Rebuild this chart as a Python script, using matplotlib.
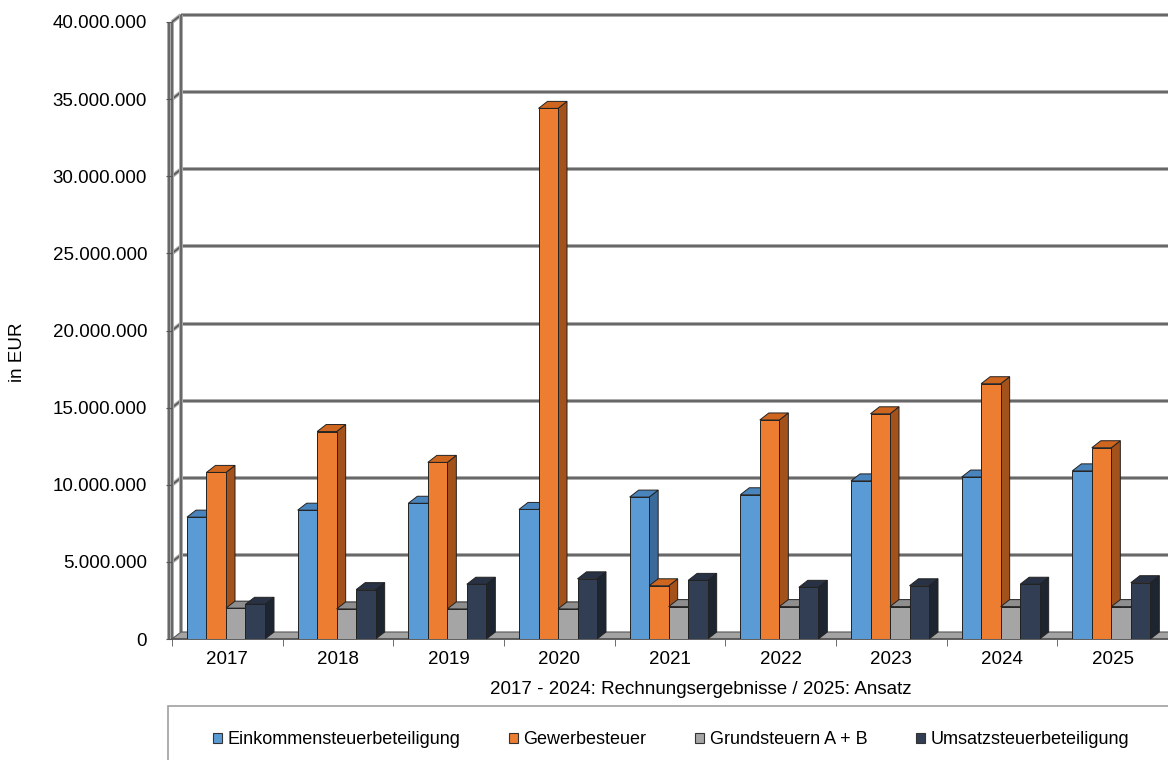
import matplotlib

matplotlib.use("Agg")
import numpy as np
from matplotlib import pyplot as plt
from matplotlib.patches import Patch, Polygon, Rectangle
from matplotlib.ticker import FuncFormatter

plt.rcParams["font.family"] = ["Liberation Sans", "DejaVu Sans"]

# values in millions EUR
years = ["2017", "2018", "2019", "2020", "2021", "2022", "2023", "2024", "2025"]
einkommen = [7.9, 8.35, 8.8, 8.4, 9.2, 9.35, 10.25, 10.5, 10.9]
gewerbe = [10.8, 13.45, 11.45, 34.4, 3.45, 14.2, 14.6, 16.55, 12.4]
grund = [2.0, 1.95, 1.95, 1.95, 2.1, 2.1, 2.1, 2.1, 2.1]
umsatz = [2.25, 3.2, 3.55, 3.9, 3.8, 3.35, 3.45, 3.55, 3.65]

series_names = [
    "Einkommensteuerbeteiligung",
    "Gewerbesteuer",
    "Grundsteuern A + B",
    "Umsatzsteuerbeteiligung",
]
front_colors = ["#5b9bd5", "#ed7d31", "#a5a5a5", "#323e53"]
top_colors = ["#4a84bd", "#cf661f", "#8e8e8e", "#283244"]
side_colors = ["#3b6a9a", "#a4521b", "#767676", "#1d2530"]

W, H = 1168, 760
PX_X = 996 / 9  # pixel per category
PX_Y = 617 / 40e6  # pixel per euro
edge = "#222222"


def grid_line(ax, xs, ys, z=1):
    # two tone line like the excel 3d wall grid
    ax.plot(xs, ys, color="#a8a8a8", lw=2.8, zorder=z, clip_on=False, solid_capstyle="butt")
    ax.plot(xs, ys, color="#555555", lw=1.1, zorder=z, clip_on=False, solid_capstyle="butt")


def main():
    fig = plt.figure(figsize=(W / 100, H / 100), dpi=100)
    ax = fig.add_axes([172 / W, 121 / H, 996 / W, 617 / H])
    ax.set_xlim(-0.5, 8.5)
    ax.set_ylim(0, 40e6)

    dx = 9 / PX_X
    dy = 7 / PX_Y

    # back wall grid + side wall diagonals
    for v in np.arange(5e6, 40e6 + 1, 5e6):
        grid_line(ax, [-0.5 + dx, 9.5], [v + dy, v + dy])
        grid_line(ax, [-0.5, -0.5 + dx], [v, v + dy])
    grid_line(ax, [-0.5 + dx, -0.5 + dx], [dy, 40e6 + dy])
    grid_line(ax, [-0.5, -0.5], [0, 40e6])
    grid_line(ax, [-0.5 - 3 / PX_X, -0.5 - 3 / PX_X], [0, 40e6])

    # floor
    floor = Polygon(
        [(-0.5, 0), (9.5, 0), (9.5 + dx, dy), (-0.5 + dx, dy)],
        closed=True, facecolor="#a3a3a3", edgecolor="#555555", lw=0.8, zorder=1.5, clip_on=False,
    )
    ax.add_patch(floor)
    ax.plot([-0.5, 9.5], [0, 0], color="#555555", lw=1.2, zorder=1.6, clip_on=False)

    # bars, drawn left to right so the next bar hides the side face
    w = 19.5 / PX_X
    data = [np.array(s) * 1e6 for s in (einkommen, gewerbe, grund, umsatz)]
    for i in range(len(years)):
        for j, vals in enumerate(data):
            h = vals[i]
            x0 = i - 0.5 + (15 + 19.5 * j) / PX_X
            side = Polygon(
                [(x0 + w, 0), (x0 + w + dx, dy), (x0 + w + dx, h + dy), (x0 + w, h)],
                closed=True, facecolor=side_colors[j], edgecolor=edge, lw=0.7, zorder=2,
            )
            top = Polygon(
                [(x0, h), (x0 + w, h), (x0 + w + dx, h + dy), (x0 + dx, h + dy)],
                closed=True, facecolor=top_colors[j], edgecolor=edge, lw=0.7, zorder=2,
            )
            front = Rectangle(
                (x0, 0), w, h, facecolor=front_colors[j], edgecolor=edge, lw=0.7, zorder=2
            )
            ax.add_patch(side)
            ax.add_patch(top)
            ax.add_patch(front)

    for s in ax.spines.values():
        s.set_visible(False)

    ax.set_yticks(np.arange(0, 40e6 + 1, 5e6))
    ax.yaxis.set_major_formatter(FuncFormatter(lambda v, pos: f"{int(v):,}".replace(",", ".")))
    ax.tick_params(axis="y", length=4, color="#555555", pad=14, labelsize=13.5)

    ax.set_xticks(range(len(years)))
    ax.set_xticklabels(years)
    ax.set_xticks(np.arange(-0.5, 9, 1), minor=True)
    ax.tick_params(axis="x", which="major", length=0, pad=9, labelsize=13.5)
    ax.tick_params(axis="x", which="minor", length=5, color="#555555")

    fig.text(18 / W, 1 - 352 / H, "in EUR", rotation=90, ha="center", va="center", fontsize=13.5)
    fig.text(701 / W, 1 - 689 / H, "2017 - 2024: Rechnungsergebnisse / 2025: Ansatz",
             ha="center", va="center", fontsize=13.5)

    # legend box, cut at the right and bottom like the original
    fig.patches.append(
        Rectangle((168 / W, -0.02), (1180 - 168) / W, (1 - 706 / H) + 0.02,
                  transform=fig.transFigure, fill=False, edgecolor="#a0a0a0", lw=1.2)
    )
    handles = [Patch(facecolor=c, edgecolor="#333333", lw=0.8) for c in front_colors]
    fig.legend(
        handles, series_names, loc="center", bbox_to_anchor=(671 / W, 1 - 740 / H),
        ncol=4, frameon=False, fontsize=13, handlelength=0.5, handleheight=0.5,
        handletextpad=0.3, columnspacing=2.7,
    )

    fig.savefig("out.png", dpi=100)


if __name__ == "__main__":
    main()
